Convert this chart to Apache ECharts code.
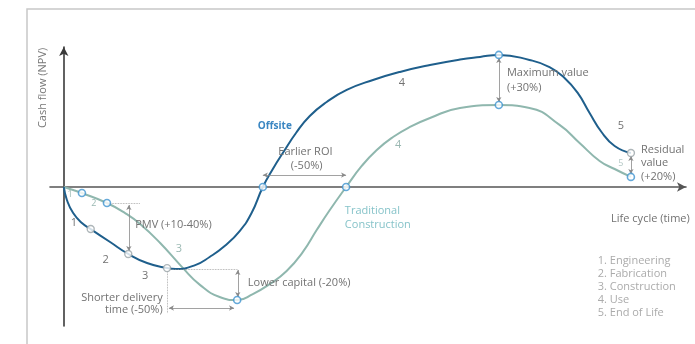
<!DOCTYPE html>
<html>
<head>
<meta charset="utf-8">
<script src="https://cdn.jsdelivr.net/npm/echarts@6/dist/echarts.min.js"></script>
<style>
  html, body { margin: 0; padding: 0; background: #fff; }
  #chart { width: 695px; height: 344px; }
</style>
</head>
<body>
<div id="chart"></div>
<script>
// Life-cycle cash flow (NPV) of offsite vs traditional construction.
// Time runs 0..100 along the life cycle; cash flow is in relative units.
const offsiteTime = [0, 0.5, 1.5, 2.9, 4.3, 7.4, 10.3, 13.3, 16.5, 17.9, 21.0, 23.3, 25.7, 28.1, 30.0, 31.8, 33.4, 35.2, 37.1, 39.3, 42.0, 45.2, 49.4, 53.7, 58.5, 63.3, 66.5, 69.5, 74.4, 77.6, 80.0, 82.1, 84.0, 85.9, 88.0, 90.6];
const offsiteCash = [0, -9.0, -18.1, -25.0, -29.2, -38.2, -46.5, -52.8, -56.3, -56.9, -54.2, -48.6, -41.0, -30.6, -18.1, 0, 12.5, 25.0, 37.5, 49.3, 59.0, 67.4, 74.3, 79.9, 84.7, 88.5, 90.3, 91.7, 88.2, 83.3, 75.7, 65.3, 51.4, 38.2, 28.5, 23.6];
// phase boundaries, break-even, peak and residual value on the offsite curve
const offsitePhaseIdx = [4, 6, 8, 35];
const offsiteKeyIdx = [15, 27];

const traditionalTime = [0, 1.5, 2.9, 6.9, 9.8, 12.2, 15.4, 18.9, 21.8, 24.9, 27.7, 30.2, 32.9, 35.6, 38.2, 40.4, 42.5, 45.1, 47.6, 50.0, 52.6, 55.3, 58.5, 63.3, 69.5, 74.4, 79.2, 82.4, 85.6, 88.0, 90.6];
const traditionalCash = [0, -2.1, -4.2, -11.1, -18.1, -25.7, -38.9, -55.6, -68.1, -76.4, -78.5, -74.3, -67.4, -58.3, -45.1, -29.9, -16.0, 0, 14.6, 25.7, 34.7, 41.7, 47.9, 54.9, 56.9, 54.9, 43.1, 30.6, 18.1, 12.5, 7.0];
const traditionalKeyIdx = [2, 3, 10, 17, 24, 30];

const phaseNames = ['1. Engineering', '2. Fabrication', '3. Construction', '4. Use', '5. End of Life'];

const C_OFFSITE = '#1f5f8c';
const C_TRAD = '#8fb7ae';
const C_MARK = '#3f93cf';
const C_MARK_GREY = '#9aa4a8';
const C_NOTE = '#727272';
const FONT = '"Open Sans", Lato, sans-serif';

const pairs = (xs, ys) => xs.map((x, i) => [x, ys[i]]);
const pick = (xs, ys, idx) => idx.map(i => [xs[i], ys[i]]);

// dimension arrows and dotted guide lines, in data units
const arrows = [
  [[31.8, 8.3], [45.1, 8.3]],        // earlier ROI
  [[69.5, 89.6], [69.5, 59.0]],      // maximum value
  [[90.6, 21.5], [90.6, 9.0]],       // residual value
  [[10.4, -12.5], [10.4, -44.4]],    // PMV
  [[27.8, -57.6], [27.8, -76.4]],    // lower capital
  [[16.8, -84.0], [27.2, -84.0]]     // shorter delivery
];
const guides = [
  [[6.9, -11.1], [12.2, -11.1]],
  [[17.0, -56.9], [27.8, -56.9]],
  [[16.5, -58.3], [16.5, -87.5]]
];

const notes = [
  { t: 'Offsite', at: [31.0, 42.4], c: '#3a86c2', w: 'bold', s: 10 },
  { t: 'Earlier ROI', at: [38.6, 24.3], a: 'center' },
  { t: '(-50%)', at: [38.8, 14.6], a: 'center' },
  { t: 'Traditional', at: [44.9, -16.7], c: '#86c3c9' },
  { t: 'Construction', at: [44.9, -26.4], c: '#86c3c9' },
  { t: 'Maximum value', at: [70.8, 79.2] },
  { t: '(+30%)', at: [70.8, 68.8] },
  { t: '4', at: [54.0, 72.2], a: 'center' },
  { t: '4', at: [53.4, 29.2], a: 'center', c: '#9ab8b2' },
  { t: '5', at: [89.0, 42.4], a: 'center' },
  { t: '5', at: [89.0, 16.7], a: 'center', c: '#b5c9c6', s: 9 },
  { t: 'Residual', at: [92.2, 25.7] },
  { t: 'value', at: [92.2, 16.7] },
  { t: '(+20%)', at: [92.2, 6.9] },
  { t: 'Life cycle (time)', at: [100.0, -22.2], a: 'right' },
  { t: 'PMV (+10-40%)', at: [11.4, -26.4] },
  { t: '1', at: [1.0, -4.9], a: 'center', c: '#9ab8b2', s: 9 },
  { t: '1', at: [1.6, -25.0], a: 'center', s: 11 },
  { t: '2', at: [4.8, -11.1], a: 'center', c: '#9ab8b2', s: 9 },
  { t: '2', at: [6.7, -50.7], a: 'center', s: 11 },
  { t: '3', at: [13.0, -61.8], a: 'center', s: 11 },
  { t: '3', at: [18.4, -43.1], a: 'center', c: '#9ab8b2', s: 11 },
  { t: 'Shorter delivery', at: [15.8, -77.1], a: 'right' },
  { t: 'time (-50%)', at: [15.8, -85.4], a: 'right' },
  { t: 'Lower capital (-20%)', at: [29.4, -66.7] }
];
phaseNames.forEach((name, i) => {
  notes.push({ t: name, at: [85.3, -51.4 - i * 9.0], c: '#ababab' });
});

const chart = echarts.init(document.getElementById('chart'));

const axisCommon = {
  type: 'value',
  axisTick: { show: false },
  axisLabel: { show: false },
  splitLine: { show: false }
};

chart.setOption({
  animation: false,
  grid: { left: 50, right: 9, top: 47, bottom: 18 },
  xAxis: Object.assign({}, axisCommon, {
    min: -2.2, max: 99.4,
    axisLine: { show: true, onZero: true, symbol: ['none', 'arrow'], symbolSize: [7, 9],
      lineStyle: { color: '#555', width: 1.6 } }
  }),
  yAxis: Object.assign({}, axisCommon, {
    min: -96.5, max: 97.2,
    axisLine: { show: true, onZero: true, symbol: ['none', 'arrow'], symbolSize: [7, 9],
      lineStyle: { color: '#3a3a3a', width: 1.6 } }
  }),
  series: [
    {
      name: 'Traditional Construction', type: 'line', smooth: 0.5,
      data: pairs(traditionalTime, traditionalCash),
      symbol: 'none', lineStyle: { color: C_TRAD, width: 2 }, z: 2,
      markLine: {
        silent: true, symbol: ['none', 'none'], label: { show: false },
        lineStyle: { color: '#9a9a9a', width: 0.8, type: 'dotted' },
        data: guides.map(g => [{ coord: g[0] }, { coord: g[1] }])
      }
    },
    {
      name: 'Offsite', type: 'line', smooth: 0.5,
      data: pairs(offsiteTime, offsiteCash),
      symbol: 'none', lineStyle: { color: C_OFFSITE, width: 2 }, z: 3,
      markLine: {
        silent: true, symbol: ['arrow', 'arrow'], symbolSize: [4, 5], label: { show: false },
        lineStyle: { color: '#8a8a8a', width: 0.8, type: 'solid' },
        data: arrows.map(g => [{ coord: g[0] }, { coord: g[1] }])
      }
    },
    {
      type: 'scatter', symbol: 'circle', symbolSize: 7, z: 5,
      data: pick(traditionalTime, traditionalCash, traditionalKeyIdx)
        .concat(pick(offsiteTime, offsiteCash, offsiteKeyIdx)),
      itemStyle: { color: '#fff', borderColor: C_MARK, borderWidth: 1.6 }
    },
    {
      type: 'scatter', symbol: 'circle', symbolSize: 7, z: 5,
      data: pick(offsiteTime, offsiteCash, offsitePhaseIdx),
      itemStyle: { color: '#fff', borderColor: C_MARK_GREY, borderWidth: 1.4 }
    }
  ]
});

// Text annotations anchored at data coordinates
const toPx = p => chart.convertToPixel({ gridIndex: 0 }, p);
const textEls = notes.map(n => {
  const p = toPx(n.at);
  return {
    type: 'text', x: p[0], y: p[1], silent: true, z: 10,
    style: {
      text: n.t, fill: n.c || C_NOTE,
      font: (n.w || 'normal') + ' ' + (n.s || 11) + 'px ' + FONT,
      textAlign: n.a || 'left', textVerticalAlign: 'middle'
    }
  };
});
const titlePos = toPx([-3.3, 68.8]);
textEls.push({
  type: 'text', x: titlePos[0], y: titlePos[1], rotation: Math.PI / 2, silent: true,
  style: { text: 'Cash flow (NPV)', fill: '#777', font: '11px ' + FONT,
    textAlign: 'center', textVerticalAlign: 'middle' }
});
// page frame
textEls.push({
  type: 'rect', silent: true, z: 0,
  shape: { x: 27, y: 9, width: 700, height: 400 },
  style: { fill: 'none', stroke: '#c8c8c8', lineWidth: 1.5 }
});
chart.setOption({ graphic: textEls });
</script>
</body>
</html>
